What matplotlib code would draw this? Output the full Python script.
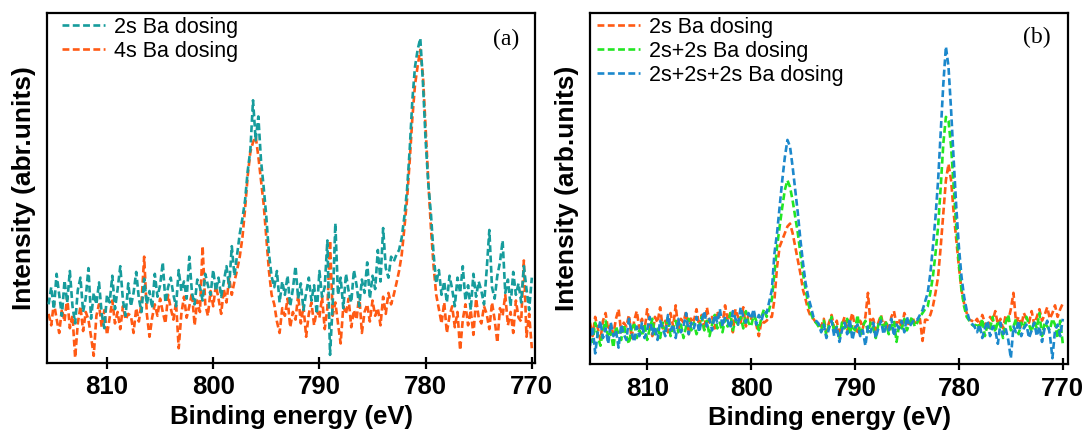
import numpy as np
import matplotlib
matplotlib.use("Agg")
import matplotlib.pyplot as plt

plt.rcParams['font.family'] = ['Liberation Sans', 'DejaVu Sans']

# binding energy grid, 0.25 eV steps from 815.5 down to 770
energy = np.linspace(815.5, 770.0, 183)

# panel (a), values (arb. units)
a_2s = [60, 78, 55, 92, 70, 48, 85, 62, 95, 58, 40, 75, 88, 52, 67, 98, 45, 72, 60, 83,
        50, 35, 70, 62, 90, 55, 76, 100, 64, 48, 82, 58, 72, 94, 66, 52, 87, 60, 74, 56,
        92, 68, 80, 104, 62, 78, 88, 70, 58, 96, 74, 84, 66, 110, 72, 60, 86, 78, 64, 92, 80, 70,
        96, 74, 88, 68, 84, 100, 78, 121, 90, 112,
        134, 150, 169, 200, 222, 274, 232, 257, 211, 183, 152, 113, 89,
        78, 95, 62, 84, 70, 90, 58, 76, 100, 66, 82, 54, 72, 88, 64, 80, 50, 95, 68, 78,
        127, 7, 60, 145, 70, 88, 56, 92, 74, 62, 96, 80, 58, 86, 72, 104, 66, 90, 76, 117, 84, 140, 98, 88, 110,
        105, 112, 117, 130, 152, 180, 222, 274, 309, 327, 339, 292, 232, 187, 155, 113, 82,
        96, 70, 84, 62, 90, 76, 58, 88, 72, 100, 64, 80, 54, 92, 68, 84, 74, 60, 96, 138,
        78, 66, 90, 104, 127, 72, 86, 58, 94, 70, 82, 62, 100, 76, 54, 88]
a_4s = [50, 38, 62, 45, 30, 55, 42, 68, 35, 48, 4, 40, 58, 32, 52, 44, 26, 6, 48, 60,
        36, 54, 28, 46, 64, 40, 52, 34, 58, 44, 50, 48, 30, 56, 42, 62, 110, 50, 26, 46,
        60, 48, 66, 52, 40, 70, 56, 44, 62, 14, 50, 68, 46, 58, 72, 38, 64, 52, 121, 60, 48, 74,
        58, 80, 66, 50, 76, 62, 88, 70, 84, 96,
        110, 130, 160, 195, 220, 230, 236, 215, 190, 165, 130, 95, 70,
        60, 42, 30, 56, 48, 66, 36, 52, 44, 70, 40, 58, 26, 50, 62, 38, 54, 46, 68, 34,
        56, 127, 48, 62, 40, 19, 58, 50, 66, 36, 54, 44, 70, 30, 52, 60, 42, 64, 48, 56, 38, 68, 50, 72, 60,
        70, 82, 95, 112, 140, 170, 210, 255, 290, 310, 327, 300, 245, 190, 140, 100, 70,
        55, 40, 62, 30, 48, 58, 36, 52, 12, 44, 60, 38, 54, 28, 66, 46, 40, 58, 50, 34,
        62, 44, 20, 56, 48, 70, 38, 52, 30, 64, 46, 42, 106, 26, 50, 14]

# panel (b)
b_2s = [44, 30, 50, 38, 26, 46, 54, 36, 42, 32, 48, 58, 34, 44, 40, 52, 28, 46, 56, 38,
        48, 36, 58, 42, 30, 50, 44, 60, 38, 46, 34, 54, 40, 62, 36, 48, 44, 56, 32, 50,
        46, 58, 40, 52, 36, 60, 44, 50, 38, 56, 48, 42, 62, 46, 54, 34, 58, 50, 44, 60, 40, 52,
        48, 56, 42, 30, 46, 44,
        46, 50, 50, 68, 102, 123, 130, 137, 144, 147, 137, 123, 109, 95, 78, 68, 57, 50, 48, 44, 42,
        40, 48, 34, 44, 52, 38, 46, 30, 42, 50, 36, 44, 54, 40, 32, 46, 38, 50, 75, 42,
        48, 36, 44, 52, 40, 46, 34, 50, 56, 42, 48, 38, 54, 46, 40, 50, 44,
        44, 48, 25, 47, 47, 52, 61, 75, 92, 123, 158, 192, 209, 192, 158, 130, 102, 78, 64, 54, 47, 46, 44,
        48, 40, 52, 44, 36, 50, 46, 56, 42, 48, 38, 52, 46, 58, 75, 44, 50, 40, 54, 48,
        44, 56, 42, 50, 58, 46, 52, 60, 48, 54, 62, 50, 58, 64]
b_4s = [38, 24, 44, 30, 20, 36, 46, 28, 34, 18, 40, 32, 26, 42, 30, 22, 38, 44, 28, 36,
        30, 42, 26, 38, 48, 32, 40, 28, 44, 36, 50, 30, 38, 46, 34, 42, 28, 40, 48, 36,
        44, 32, 40, 50, 36, 46, 30, 42, 52, 38, 44, 34, 48, 40, 54, 36, 46, 42, 50, 38, 56, 44,
        40, 52, 46, 36, 50, 58,
        50, 58, 68, 95, 123, 144, 164, 182, 192, 185, 171, 154, 137, 116, 95, 78, 64, 54, 47, 44, 40,
        36, 46, 30, 42, 50, 34, 40, 26, 44, 38, 48, 32, 42, 36, 52, 30, 40, 46, 34, 44,
        38, 28, 42, 50, 36, 44, 32, 40, 46, 24, 42, 38, 48, 36, 44, 50, 40,
        44, 50, 54, 58, 61, 75, 92, 116, 144, 185, 230, 258, 254, 227, 185, 144, 106, 78, 61, 50, 46, 42, 40,
        44, 36, 48, 30, 42, 38, 50, 34, 46, 40, 28, 44, 52, 36, 40, 48, 32, 44, 38, 50,
        42, 34, 46, 38, 54, 30, 44, 40, 36, 48, 42, 28, 46, 22]
b_6s = [20, 40, 12, 34, 46, 28, 38, 22, 44, 30, 36, 18, 42, 32, 26, 48, 34, 24, 40, 30,
        44, 28, 36, 50, 32, 40, 26, 46, 38, 30, 52, 36, 42, 28, 48, 34, 40, 54, 32, 44,
        38, 50, 34, 46, 56, 40, 48, 36, 52, 44, 58, 40, 50, 46, 38, 56, 48, 42, 60, 50, 44, 54,
        48, 58, 42, 52, 46, 56,
        54, 66, 78, 116, 137, 164, 192, 216, 234, 227, 206, 182, 158, 130, 106, 85, 71, 61, 50, 46, 43,
        34, 42, 28, 38, 46, 30, 40, 24, 36, 44, 32, 48, 26, 38, 42, 30, 36, 20, 40, 34,
        44, 28, 38, 46, 32, 40, 36, 48, 30, 42, 38, 46, 34, 50, 40, 44, 48,
        47, 52, 57, 66, 75, 95, 123, 154, 192, 241, 292, 331, 310, 265, 213, 164, 123, 92, 71, 57, 47, 43, 40,
        34, 42, 28, 38, 46, 30, 40, 36, 22, 44, 32, 38, 26, 7, 40, 34, 46, 30, 38, 42,
        28, 36, 44, 30, 40, 24, 38, 46, 32, 7, 36, 42, 30, 48]

teal = '#169c9c'
orange = '#ff5a14'
green = '#22e622'
blue = '#1c88cc'
dash = (0, (2.6, 1.3))

fig = plt.figure(figsize=(10.85, 4.32), dpi=100)
ax1 = fig.add_axes([47/1085, 69/432, 488/1085, 350/432])
ax2 = fig.add_axes([590/1085, 68/432, 478/1085, 351/432])

ax1.plot(energy, a_4s, color=orange, lw=1.9, ls=dash, zorder=2, label='4s Ba dosing')
ax1.plot(energy, a_2s, color=teal, lw=1.9, ls=dash, zorder=3, label='2s Ba dosing')
ax1.set_xlim(815.65, 769.7)
ax1.set_ylim(-1.5, 365.5)
h, l = ax1.get_legend_handles_labels()
ax1.legend(h[::-1], l[::-1], loc='upper left', bbox_to_anchor=(0.03, 0.99),
           frameon=False, fontsize=15.5, handlelength=2.0, handletextpad=0.45,
           labelspacing=0.15, borderpad=0, borderaxespad=0)
ax1.set_ylabel('Intensity (abr.units)', fontsize=19, fontweight='bold', labelpad=8)
ax1.text(0.94, 0.925, '(a)', transform=ax1.transAxes, ha='center', va='center',
         fontsize=17, family=['Liberation Serif', 'DejaVu Serif'])

ax2.plot(energy, b_2s, color=orange, lw=1.9, ls=dash, label='2s Ba dosing')
ax2.plot(energy, b_4s, color=green, lw=1.9, ls=dash, label='2s+2s Ba dosing')
ax2.plot(energy, b_6s, color=blue, lw=1.9, ls=dash, label='2s+2s+2s Ba dosing')
ax2.set_xlim(815.5, 769.5)
ax2.set_ylim(1, 366)
ax2.legend(loc='upper left', bbox_to_anchor=(0.015, 0.99),
           frameon=False, fontsize=15.5, handlelength=2.0, handletextpad=0.4,
           labelspacing=0.15, borderpad=0, borderaxespad=0)
ax2.set_ylabel('Intensity (arb.units)', fontsize=19, fontweight='bold', labelpad=8)
ax2.text(0.935, 0.93, '(b)', transform=ax2.transAxes, ha='center', va='center',
         fontsize=17, family=['Liberation Serif', 'DejaVu Serif'])

for ax in (ax1, ax2):
    ax.set_xticks([810, 800, 790, 780, 770])
    ax.set_yticks([])
    ax.tick_params(axis='x', direction='inout', length=8, width=1.6, labelsize=18.5, pad=5)
    for lab in ax.get_xticklabels():
        lab.set_fontweight('bold')
    for s in ax.spines.values():
        s.set_linewidth(1.6)
    ax.set_xlabel('Binding energy (eV)', fontsize=18.5, fontweight='bold', labelpad=4)

fig.savefig('out.png', dpi=100)
